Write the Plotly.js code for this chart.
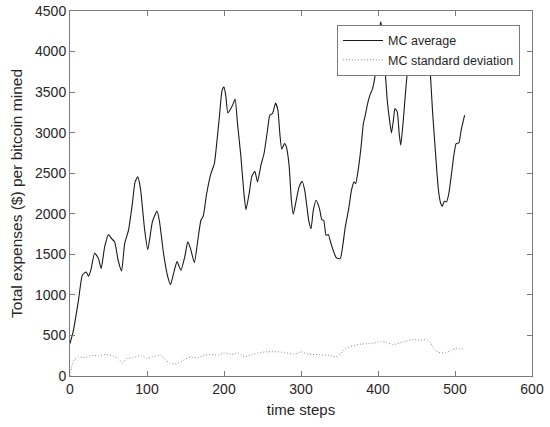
<!DOCTYPE html>
<html>
<head>
<meta charset="utf-8">
<script src="https://cdn.plot.ly/plotly-3.0.1.min.js"></script>
<style>html,body{margin:0;padding:0;background:#fff;}#chart{width:550px;height:427px;}</style>
</head>
<body>
<div id="chart"></div>
<script>
// Series: MC average
var avgSteps = [0,4,11,16,21,24,27,32,37,40.5,45,50,54,58,62.5,67,71,76,81,84.5,88,91.5,97,101,107,113,116,121.5,127,130.5,135,139,144,149,153,156.5,161.5,166,170,173,177.5,183,187.5,190.5,194,197.5,200,202.5,205,209,212,214.5,217.5,222,225.5,228.5,233,236,240,243.5,248,252,256.5,259.5,263,267,270,272.5,275,278.5,281,284.5,287.5,290,293,297.5,301.5,305,310,313,316,319.5,324,327,329.5,332.5,335.5,339,342.5,346,351,354,357.5,362,365.5,369,371,374.5,378,381,383.5,386.5,389.5,393,396,398,400,401.5,403.5,406,409,412,415,417.5,420,422,425,427.5,429.5,432.5,436,439,442.5,446,450,455,460,464,467,469,471,473.5,476,478.5,481.5,483.5,486,489,492,495.5,498.5,501.5,505,508,512.5];
var avgValues = [400,543,933,1242,1283,1230,1303,1515,1447,1324,1591,1743,1694,1653,1427,1295,1632,1797,2126,2393,2455,2311,1797,1558,1900,2035,1920,1509,1221,1127,1283,1410,1303,1468,1653,1571,1398,1674,1920,1970,2250,2496,2619,2866,3195,3524,3565,3442,3244,3298,3359,3413,3113,2701,2290,2052,2270,2455,2525,2393,2599,2743,3030,3215,3236,3365,3277,2989,2796,2866,2825,2600,2167,1994,2126,2331,2401,2280,1920,1817,2044,2167,2064,1928,1920,1735,1743,1632,1530,1456,1447,1591,1838,2064,2290,2393,2372,2557,2825,3113,3215,3359,3462,3544,3688,3832,3997,4223,4367,4223,3812,3400,3154,2998,3154,3298,3257,2989,2845,3113,3524,3791,3832,3850,3900,3960,4000,3950,3850,3565,3236,2907,2578,2290,2126,2093,2155,2147,2250,2496,2722,2866,2874,3030,3215];
// Series: MC standard deviation
var sdSteps = [0,2,5,11,19.5,28,37,45.5,56,63,68,73.5,82,93,99.5,107,118,123,130,138.5,147,156,164.5,175,184,192.5,200,210,218.5,227,236,247,257.5,268,279,290,300,304,311,321.5,330,337,345,352,358,367,378,386,395,403.5,411,419,427.5,436,444.5,455.5,464,468.5,473,479,488,494,501,507,512.5];
var sdValues = [0,107,192,235,226,256,248,265,248,214,162,214,226,256,214,235,256,201,158,150,192,235,222,256,265,256,286,265,286,235,265,290,299,299,290,265,299,286,265,265,256,256,235,278,342,372,393,397,406,427,414,385,406,427,449,440,449,406,329,290,286,312,342,333,333];
var xTicks = [0,100,200,300,400,500,600];
var yTicks = [0,500,1000,1500,2000,2500,3000,3500,4000,4500];
var seriesNames = ['MC average','MC standard deviation'];
var xTitle = 'time steps';
var yTitle = 'Total expenses ($) per bitcoin mined';

var font = 'Liberation Sans, Arial, Helvetica, sans-serif';
var traces = [
  {x: avgSteps, y: avgValues, name: seriesNames[0], type: 'scatter', mode: 'lines',
   line: {color: '#1a1a1a', width: 1.1, shape: 'spline', smoothing: 0.5}},
  {x: sdSteps, y: sdValues, name: seriesNames[1], type: 'scatter', mode: 'lines',
   line: {color: '#8c8c8c', width: 1, dash: '1px,2px', shape: 'spline', smoothing: 0.5}}
];
var axisCommon = {
  showgrid: false, zeroline: false, showline: true, linecolor: '#7a7a7a', linewidth: 1,
  mirror: 'ticks', ticks: 'inside', ticklen: 5, tickcolor: '#7a7a7a', tickwidth: 1,
  tickfont: {family: font, size: 14, color: '#262626'}
};
var layout = {
  width: 550, height: 427,
  margin: {l: 70, r: 18, t: 11, b: 51},
  paper_bgcolor: '#fff', plot_bgcolor: '#fff',
  showlegend: true,
  xaxis: Object.assign({}, axisCommon, {
    range: [0, 600], tickmode: 'array', tickvals: xTicks, ticktext: xTicks.map(String),
    title: {text: xTitle, font: {family: font, size: 15, color: '#262626'}, standoff: 8}
  }),
  yaxis: Object.assign({}, axisCommon, {
    range: [0, 4500], tickmode: 'array', tickvals: yTicks, ticktext: yTicks.map(String),
    title: {text: yTitle, font: {family: font, size: 15.5, color: '#262626'}, standoff: 8}
  }),
  legend: {
    x: 0.578, y: 0.962, xanchor: 'left', yanchor: 'top',
    bgcolor: '#fff', bordercolor: '#7a7a7a', borderwidth: 1,
    font: {family: font, size: 12.5, color: '#262626'},
    tracegroupgap: 0, itemwidth: 40
  }
};
Plotly.newPlot('chart', traces, layout, {displayModeBar: false, staticPlot: true});
</script>
</body>
</html>
